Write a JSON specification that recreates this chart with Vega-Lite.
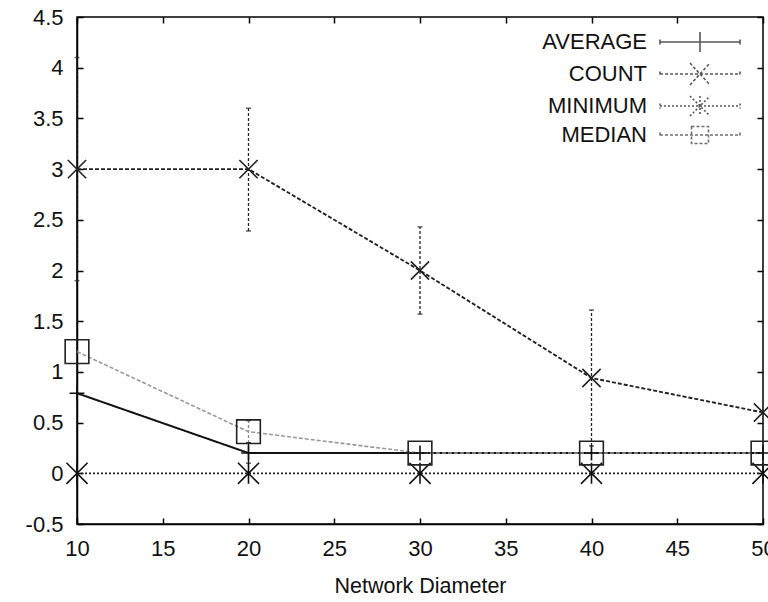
{
  "$schema": "https://vega.github.io/schema/vega-lite/v6.json",
  "width": 686,
  "height": 507,
  "autosize": {"type": "none"},
  "padding": {"left": 77, "top": 17, "right": 5, "bottom": 78},
  "background": "white",
  "config": {
    "font": "Liberation Sans",
    "view": {"stroke": "black", "strokeWidth": 1.5},
    "axis": {
      "grid": false,
      "domainColor": "black",
      "domainWidth": 1.5,
      "tickColor": "black",
      "tickWidth": 1.5,
      "tickSize": -6,
      "labelColor": "#111",
      "labelFont": "Liberation Sans",
      "labelFontSize": 22,
      "titleFont": "Liberation Sans",
      "titleFontSize": 21.5,
      "titleFontWeight": "normal",
      "titleColor": "#111"
    }
  },
  "datasets": {
    "series": [
      {"diameter": 10, "series": "AVERAGE", "value": 0.79},
      {"diameter": 20, "series": "AVERAGE", "value": 0.2},
      {"diameter": 30, "series": "AVERAGE", "value": 0.2},
      {"diameter": 40, "series": "AVERAGE", "value": 0.2},
      {"diameter": 50, "series": "AVERAGE", "value": 0.2},
      {"diameter": 10, "series": "COUNT", "value": 3},
      {"diameter": 20, "series": "COUNT", "value": 3},
      {"diameter": 30, "series": "COUNT", "value": 2},
      {"diameter": 40, "series": "COUNT", "value": 0.94},
      {"diameter": 50, "series": "COUNT", "value": 0.6},
      {"diameter": 10, "series": "MINIMUM", "value": 0},
      {"diameter": 20, "series": "MINIMUM", "value": 0},
      {"diameter": 30, "series": "MINIMUM", "value": 0},
      {"diameter": 40, "series": "MINIMUM", "value": 0},
      {"diameter": 50, "series": "MINIMUM", "value": 0},
      {"diameter": 10, "series": "MEDIAN", "value": 1.2},
      {"diameter": 20, "series": "MEDIAN", "value": 0.41},
      {"diameter": 30, "series": "MEDIAN", "value": 0.2},
      {"diameter": 40, "series": "MEDIAN", "value": 0.2},
      {"diameter": 50, "series": "MEDIAN", "value": 0.2}
    ],
    "errors": [
      {"diameter": 10, "series": "COUNT", "low": 1.9, "high": 4.1},
      {"diameter": 20, "series": "COUNT", "low": 2.39, "high": 3.6},
      {"diameter": 30, "series": "COUNT", "low": 1.57, "high": 2.43},
      {"diameter": 40, "series": "COUNT", "low": 0.27, "high": 1.61},
      {"diameter": 20, "series": "MEDIAN", "low": 0.3, "high": 0.52},
      {"diameter": 20, "series": "AVERAGE", "low": 0.1, "high": 0.3}
    ]
  },
  "resolve": {
    "scale": {"shape": "independent", "stroke": "independent", "strokeDash": "independent", "size": "independent", "strokeWidth": "independent"},
    "axis": {"x": "independent", "y": "independent"}
  },
  "layer": [
    {
      "data": {"name": "errors"},
      "mark": {"type": "rule", "strokeWidth": 1.3},
      "encoding": {
        "x": {"field": "diameter", "type": "quantitative", "scale": {"domain": [10, 50]}, "axis": null},
        "y": {"field": "low", "type": "quantitative", "scale": {"domain": [-0.5, 4.5]}, "axis": null},
        "y2": {"field": "high"},
        "stroke": {"field": "series", "type": "nominal", "scale": {"domain": ["AVERAGE", "COUNT", "MINIMUM", "MEDIAN"], "range": ["#111", "#222", "#111", "#888"]}, "legend": null},
        "strokeDash": {"field": "series", "type": "nominal", "scale": {"domain": ["AVERAGE", "COUNT", "MINIMUM", "MEDIAN"], "range": [[1, 0], [3, 2], [2, 2], [3, 2]]}, "legend": null}
      }
    },
    {
      "data": {"name": "errors"},
      "mark": {"type": "tick", "orient": "horizontal", "size": 5, "thickness": 1.5, "color": "#222"},
      "encoding": {
        "x": {"field": "diameter", "type": "quantitative", "scale": {"domain": [10, 50]}, "axis": null},
        "y": {"field": "high", "type": "quantitative", "scale": {"domain": [-0.5, 4.5]}, "axis": null}
      }
    },
    {
      "data": {"name": "errors"},
      "mark": {"type": "tick", "orient": "horizontal", "size": 5, "thickness": 1.5, "color": "#222"},
      "encoding": {
        "x": {"field": "diameter", "type": "quantitative", "scale": {"domain": [10, 50]}, "axis": null},
        "y": {"field": "low", "type": "quantitative", "scale": {"domain": [-0.5, 4.5]}, "axis": null}
      }
    },
    {
      "data": {"name": "series"},
      "mark": {"type": "line"},
      "encoding": {
        "x": {"field": "diameter", "type": "quantitative", "scale": {"domain": [10, 50]},
              "axis": {"orient": "bottom", "values": [10, 15, 20, 25, 30, 35, 40, 45, 50], "title": "Network Diameter", "labelPadding": 20, "titlePadding": 16, "labelFlush": false}},
        "y": {"field": "value", "type": "quantitative", "scale": {"domain": [-0.5, 4.5]},
              "axis": {"orient": "left", "values": [-0.5, 0, 0.5, 1, 1.5, 2, 2.5, 3, 3.5, 4, 4.5], "labelExpr": "'' + datum.value", "title": null, "labelPadding": 20, "labelFlush": false}},
        "stroke": {"field": "series", "type": "nominal", "scale": {"domain": ["AVERAGE", "COUNT", "MINIMUM", "MEDIAN"], "range": ["#111", "#222", "#222", "#999"]}, "legend": null},
        "strokeDash": {"field": "series", "type": "nominal", "scale": {"domain": ["AVERAGE", "COUNT", "MINIMUM", "MEDIAN"], "range": [[1, 0], [4, 2], [2, 2], [4, 2]]}, "legend": null},
        "strokeWidth": {"field": "series", "type": "nominal", "scale": {"domain": ["AVERAGE", "COUNT", "MINIMUM", "MEDIAN"], "range": [2, 1.6, 1.6, 1.5]}, "legend": null}
      }
    },
    {
      "data": {"name": "series"},
      "mark": {"type": "point", "filled": false, "strokeWidth": 1.6, "opacity": 1},
      "encoding": {
        "x": {"field": "diameter", "type": "quantitative", "scale": {"domain": [10, 50]}, "axis": null},
        "y": {"field": "value", "type": "quantitative", "scale": {"domain": [-0.5, 4.5]}, "axis": null},
        "shape": {"field": "series", "type": "nominal", "scale": {"domain": ["AVERAGE", "COUNT", "MINIMUM", "MEDIAN"], "range": ["M-1,0H1M0,-1V1", "M-1,-1L1,1M-1,1L1,-1", "M-1,-1L1,1M-1,1L1,-1M0,-1V1", "square"]}, "legend": null},
        "stroke": {"field": "series", "type": "nominal", "scale": {"domain": ["AVERAGE", "COUNT", "MINIMUM", "MEDIAN"], "range": ["#111", "#222", "#111", "#222"]}, "legend": null},
        "size": {"field": "series", "type": "nominal", "scale": {"domain": ["AVERAGE", "COUNT", "MINIMUM", "MEDIAN"], "range": [220, 560, 560, 480]}, "legend": null}
      }
    },
    {
      "data": {"name": "series"},
      "transform": [{"filter": "datum.diameter > 1000"}],
      "mark": {"type": "point", "filled": false, "strokeWidth": 1.5, "size": 400},
      "encoding": {
        "x": {"field": "diameter", "type": "quantitative", "scale": {"domain": [10, 50]},
              "axis": {"orient": "top", "values": [10, 15, 20, 25, 30, 35, 40, 45, 50], "labels": false, "domain": false, "title": null}},
        "y": {"field": "value", "type": "quantitative", "scale": {"domain": [-0.5, 4.5]},
              "axis": {"orient": "right", "values": [-0.5, 0, 0.5, 1, 1.5, 2, 2.5, 3, 3.5, 4, 4.5], "labels": false, "domain": false, "title": null}},
        "shape": {"field": "series", "type": "nominal",
                  "scale": {"domain": ["AVERAGE", "COUNT", "MINIMUM", "MEDIAN"],
                            "range": ["M-4,0H4M0,-1V1M-4,-0.25V0.25M4,-0.25V0.25",
                                      "M-4,0H4M-1,-1.1L1,1.1M-1,1.1L1,-1.1M-4,-0.25V0.25M4,-0.25V0.25",
                                      "M-4,0H4M-1,-1L1,1M-1,1L1,-1M0,-1V1M-4,-0.25V0.25M4,-0.25V0.25",
                                      "M-4,0H4M-0.85,-0.85H0.85V0.85H-0.85ZM-4,-0.25V0.25M4,-0.25V0.25"]},
                  "legend": {"title": null, "orient": "none", "legendX": 612, "legendY": 14, "labelAlign": "right", "labelOffset": -64, "labelFontSize": 22, "labelColor": "#111", "labelFont": "Liberation Sans", "rowPadding": 3, "symbolStrokeWidth": 1.6, "symbolSize": 400}},
        "stroke": {"field": "series", "type": "nominal", "scale": {"domain": ["AVERAGE", "COUNT", "MINIMUM", "MEDIAN"], "range": ["#111", "#111", "#111", "#333"]}},
        "strokeDash": {"field": "series", "type": "nominal", "scale": {"domain": ["AVERAGE", "COUNT", "MINIMUM", "MEDIAN"], "range": [[1, 0], [3, 2], [2, 2], [3, 2]]}}
      }
    }
  ]
}
